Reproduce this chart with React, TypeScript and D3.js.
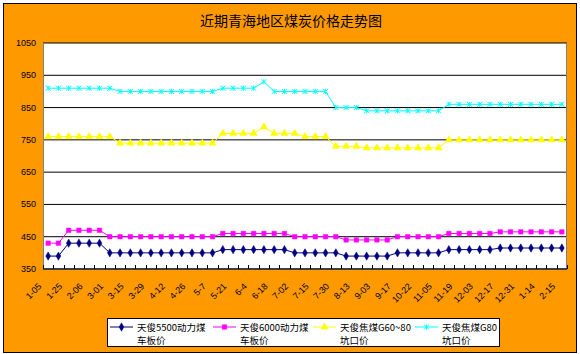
import * as d3 from 'd3'

// x-axis labels (every other category is labelled)
const dateLabels = ['1-05', '1-25', '2-06', '3-01', '3-15', '3-29', '4-12', '4-26', '5-7', '5-21', '6-4', '6-18', '7-02', '7-15', '7-30', '8-13', '9-03', '9-17', '10-22', '11-05', '11-19', '12-03', '12-17', '12-31', '1-14', '2-15']

const yTicks = [350, 450, 550, 650, 750, 850, 950, 1050]

const coal5500 = [390, 390, 430, 430, 430, 430, 400, 400, 400, 400, 400, 400, 400, 400, 400, 400, 400, 410, 410, 410, 410, 410, 410, 410, 400, 400, 400, 400, 400, 390, 390, 390, 390, 390, 400, 400, 400, 400, 400, 410, 410, 410, 410, 410, 415, 415, 415, 415, 415, 415, 415]
const coal6000 = [430, 430, 470, 470, 470, 470, 450, 450, 450, 450, 450, 450, 450, 450, 450, 450, 450, 460, 460, 460, 460, 460, 460, 460, 450, 450, 450, 450, 450, 440, 440, 440, 440, 440, 450, 450, 450, 450, 450, 460, 460, 460, 460, 460, 465, 465, 465, 465, 465, 465, 465]
const cokingG6080 = [760, 760, 760, 760, 760, 760, 760, 740, 740, 740, 740, 740, 740, 740, 740, 740, 740, 770, 770, 770, 770, 790, 770, 770, 770, 760, 760, 760, 730, 730, 730, 725, 725, 725, 725, 725, 725, 725, 725, 750, 750, 750, 750, 750, 750, 750, 750, 750, 750, 750, 750]
const cokingG80 = [910, 910, 910, 910, 910, 910, 910, 900, 900, 900, 900, 900, 900, 900, 900, 900, 900, 910, 910, 910, 910, 930, 900, 900, 900, 900, 900, 900, 850, 850, 850, 840, 840, 840, 840, 840, 840, 840, 840, 860, 860, 860, 860, 860, 860, 860, 860, 860, 860, 860, 860]

const seriesNames = [
  ['天俊5500动力煤', '车板价'],
  ['天俊6000动力煤', '车板价'],
  ['天俊焦煤G60~80', '坑口价'],
  ['天俊焦煤G80', '坑口价'],
]
const seriesColors = ['#000080', '#FF00FF', '#FFFF00', '#00FFFF']
const seriesData = [coal5500, coal6000, cokingG6080, cokingG80]

const W = 580
const H = 354
const plot = { left: 43, right: 567, top: 43, bottom: 269 }
const FONT = '"Liberation Sans", Arial, sans-serif'
const CJK = '"Noto Sans CJK SC", sans-serif'

function Marker({ kind, x, y, color }: { kind: number; x: number; y: number; color: string }) {
  if (kind === 3) {
    return (
      <path
        d={`M${x - 2.5},${y - 2.5}L${x + 2.5},${y + 2.5}M${x - 2.5},${y + 2.5}L${x + 2.5},${y - 2.5}M${x},${y - 2.5}L${x},${y + 2.5}`}
        stroke={color}
        strokeWidth={1}
        fill="none"
      />
    )
  }
  const type = [d3.symbolDiamond, d3.symbolSquare, d3.symbolTriangle][kind]
  const size = [20, 20, 22][kind]
  const d = d3.symbol(type, size)() || ''
  return <path d={d} transform={`translate(${x},${y})`} fill={color} stroke={color} strokeWidth={0.5} />
}

export default function App() {
  const n = coal5500.length
  const x = d3
    .scaleBand<number>()
    .domain(d3.range(n))
    .range([plot.left, plot.right])
  const cx = (i: number) => (x(i) || 0) + x.bandwidth() / 2
  const y = d3.scaleLinear().domain([350, 1050]).range([plot.bottom, plot.top])

  const line = d3
    .line<number>()
    .x((_, i) => cx(i))
    .y((d) => y(d))

  const legendX = [110, 213, 313, 415]

  return (
    <div style={{ position: 'fixed', left: 0, top: 0 }}>
      <svg width={W} height={H} style={{ display: 'block' }}>
        <rect x={0} y={0} width={W} height={H} fill="#fff" />
        <rect x={3.5} y={3.5} width={573} height={349} fill="#FF9900" stroke="#000" />

        <text x={291} y={26} textAnchor="middle" fontFamily={CJK} fontSize={14} fill="#000">
          近期青海地区煤炭价格走势图
        </text>

        {/* plot area */}
        <rect
          x={plot.left}
          y={plot.top}
          width={plot.right - plot.left}
          height={plot.bottom - plot.top}
          fill="#fff"
        />

        {yTicks.map((t) => (
          <g key={t}>
            <line x1={plot.left} x2={plot.right} y1={y(t)} y2={y(t)} stroke="#000" strokeWidth={1} />
            <text x={36} y={y(t) + 3} textAnchor="end" fontFamily={FONT} fontSize={9} fill="#000">
              {t}
            </text>
          </g>
        ))}

        <rect
          x={plot.left + 0.5}
          y={plot.top + 0.5}
          width={plot.right - plot.left - 1}
          height={plot.bottom - plot.top}
          fill="none"
          stroke="#808080"
        />
        <line x1={plot.left} x2={plot.right} y1={plot.bottom} y2={plot.bottom} stroke="#000" />

        {/* category ticks */}
        {d3.range(n + 1).map((i) => {
          const tx = Math.round(plot.left + i * x.step()) + 0.5
          return <line key={i} x1={tx} x2={tx} y1={plot.bottom - 4} y2={plot.bottom} stroke="#000" />
        })}

        {dateLabels.map((lab, k) => {
          const px = cx(k * 2) - 6
          const py = 287
          return (
            <text
              key={k}
              x={px}
              y={py}
              transform={`rotate(-45,${px},${py})`}
              textAnchor="end"
              fontFamily={FONT}
              fontSize={9}
              fill="#000"
            >
              {lab}
            </text>
          )
        })}

        {seriesData.map((data, s) => (
          <g key={s}>
            <path d={line(data) || ''} fill="none" stroke={seriesColors[s]} strokeWidth={1} />
            {data.map((v, i) => (
              <Marker key={i} kind={s} x={cx(i)} y={y(v)} color={seriesColors[s]} />
            ))}
          </g>
        ))}

        {/* legend */}
        <rect x={107.5} y={318.5} width={392} height={28} fill="#fff" stroke="#000" />
        {seriesNames.map((names, s) => {
          const lx = legendX[s]
          return (
            <g key={s}>
              <line x1={lx} x2={lx + 23} y1={327} y2={327} stroke={seriesColors[s]} />
              <Marker kind={s} x={lx + 11.5} y={327} color={seriesColors[s]} />
              <text x={lx + 27} y={330.5} fontFamily={CJK} fontSize={9.5} fill="#000">
                {names[0]}
              </text>
              <text x={lx + 27} y={344} fontFamily={CJK} fontSize={9.5} fill="#000">
                {names[1]}
              </text>
            </g>
          )
        })}
      </svg>
    </div>
  )
}
